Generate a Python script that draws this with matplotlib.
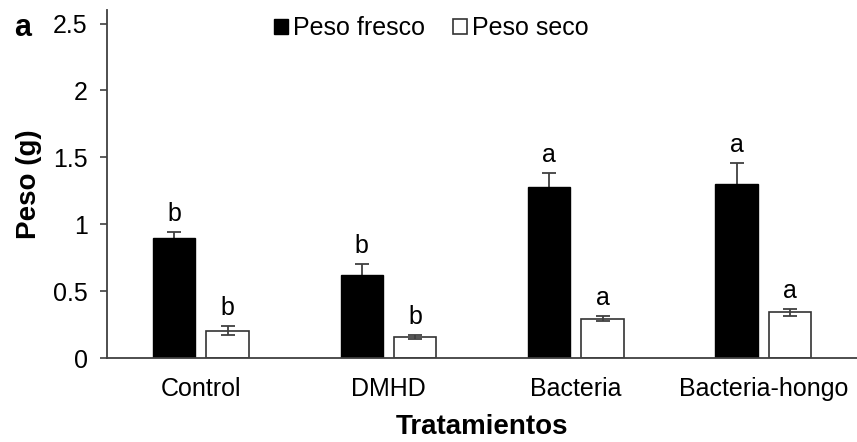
import numpy as np
import matplotlib.pyplot as plt

plt.rcParams["font.family"] = ["Liberation Sans", "DejaVu Sans"]

categories = ["Control", "DMHD", "Bacteria", "Bacteria-hongo"]
fresco = [0.895, 0.62, 1.28, 1.30]
fresco_err = [0.05, 0.08, 0.10, 0.155]
seco = [0.205, 0.16, 0.295, 0.342]
seco_err = [0.035, 0.015, 0.02, 0.025]
fresco_letters = ["b", "b", "a", "a"]
seco_letters = ["b", "b", "a", "a"]

fig = plt.figure(figsize=(8.57, 4.42), dpi=100)
ax = fig.add_axes([0.125, 0.19, 0.875, 0.787])

x = np.arange(len(categories))
w = 0.225
off = w / 2 + 0.03

# error bars behind the black bars so only the upper half shows
ax.errorbar(x - off, fresco, yerr=fresco_err, fmt="none", ecolor="#404040",
            elinewidth=1.3, capsize=5, capthick=1.3, zorder=1)
ax.bar(x - off, fresco, w, color="black", edgecolor="black", linewidth=1,
       label="Peso fresco", zorder=2)
ax.bar(x + off, seco, w, color="white", edgecolor="#333333", linewidth=1.2,
       label="Peso seco", zorder=2)
ax.errorbar(x + off, seco, yerr=seco_err, fmt="none", ecolor="#404040",
            elinewidth=1.3, capsize=5, capthick=1.3, zorder=3)

for i in range(len(categories)):
    ax.text(x[i] - off, fresco[i] + fresco_err[i] + 0.045, fresco_letters[i],
            ha="center", va="bottom", fontsize=18)
    ax.text(x[i] + off, seco[i] + seco_err[i] + 0.045, seco_letters[i],
            ha="center", va="bottom", fontsize=18)

ax.set_xlim(-0.5, 3.5)
ax.set_ylim(0, 2.6)
ax.set_yticks([0, 0.5, 1, 1.5, 2, 2.5])
ax.set_yticklabels(["0", "0.5", "1", "1.5", "2", "2.5"])
ax.set_xticks(x)
ax.set_xticklabels(categories)
ax.tick_params(axis="x", length=0, labelsize=18, pad=14)
ax.tick_params(axis="y", length=5, width=1.2, direction="out", labelsize=18,
               pad=9, color="#404040")
for s in ["top", "right"]:
    ax.spines[s].set_visible(False)
for s in ["left", "bottom"]:
    ax.spines[s].set_color("#404040")
    ax.spines[s].set_linewidth(1.3)

ax.set_ylabel("Peso (g)", fontsize=20, fontweight="bold", labelpad=8)
ax.set_xlabel("Tratamientos", fontsize=20, fontweight="bold", labelpad=9)

ax.legend(loc="center", bbox_to_anchor=(0.432, 0.948), ncol=2,
          frameon=False, fontsize=18, handlelength=0.56, handleheight=0.56,
          handletextpad=0.2, columnspacing=1.1, borderpad=0, borderaxespad=0)

fig.text(0.016, 0.937, "a", fontsize=22, fontweight="bold", va="center")

fig.savefig("out.png", dpi=100)
